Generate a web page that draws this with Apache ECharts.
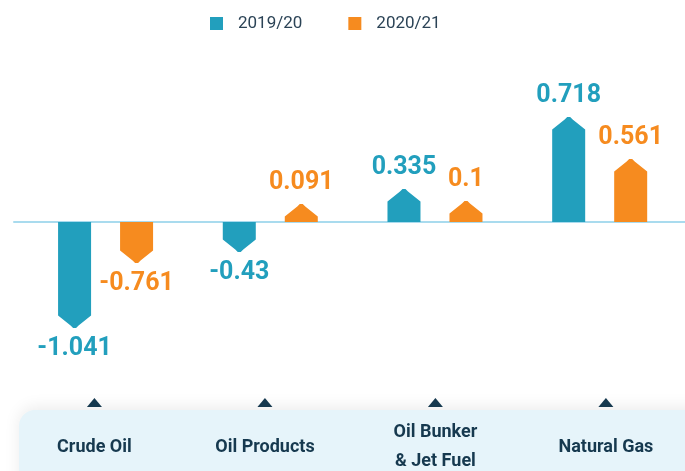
<!DOCTYPE html>
<html>
<head>
<meta charset="utf-8">
<title>Energy change by product</title>
<script src="https://cdn.jsdelivr.net/npm/echarts@6/dist/echarts.min.js"></script>
<style>
  body { margin: 0; background: #fff; }
  #chart { width: 685px; height: 471px; }
</style>
</head>
<body>
<div id="chart"></div>
<script>
const categories = ['Crude Oil', 'Oil Products', 'Oil Bunker\n& Jet Fuel', 'Natural Gas'];
const seriesNames = ['2019/20', '2020/21'];
// values printed on the bars
const values2019 = [-1.041, -0.43, 0.335, 0.718];
const values2021 = [-0.761, 0.091, 0.1, 0.561];
// bar lengths as drawn in the picture (the artwork is not to scale)
const drawn2019 = [-1.06, -0.30, 0.33, 1.05];
const drawn2021 = [-0.41, 0.18, 0.21, 0.63];

const BLUE = '#229fbd';
const ORANGE = '#f68b1f';
const NAVY = '#16394f';

const chart = echarts.init(document.getElementById('chart'));

// bar with a chamfered, slightly rounded tip + value label past the tip
function arrowBar(offset, color) {
    return function (params, api) {
        const i = api.value(0);
        const base = api.coord([i, 0]);
        const tip = api.coord([i, api.value(1)]);
        const bw = 33;
        const xc = base[0] + offset;
        const x0 = xc - bw / 2, x1 = xc + bw / 2;
        const b = base[1], t = tip[1];
        const dir = b > t ? 1 : -1;
        const ch = Math.min(12.5, Math.abs(b - t));
        const s = t + dir * ch;
        const pts = [
            [x0, b], [x0, s],
            [xc - 4, t + dir * 2.5], [xc - 1.5, t], [xc + 1.5, t], [xc + 4, t + dir * 2.5],
            [x1, s], [x1, b]
        ];
        return {
            type: 'group',
            children: [
                { type: 'polygon', shape: { points: pts }, style: { fill: color } },
                {
                    type: 'text', x: xc, y: t - dir * 21,
                    style: {
                        text: String(api.value(2)), fill: color,
                        fontFamily: 'Roboto', fontWeight: 'bold', fontSize: 25,
                        align: 'center', verticalAlign: 'middle'
                    }
                }
            ]
        };
    };
}

chart.setOption({
    animation: false,
    color: [BLUE, ORANGE],
    legend: {
        data: seriesNames,
        left: 205, top: 10,
        icon: 'rect',
        itemWidth: 13, itemHeight: 13, itemGap: 46,
        textStyle: { fontFamily: 'Roboto', fontWeight: 400, fontSize: 17, color: '#2b4356', padding: [0, 0, 0, 10] }
    },
    graphic: [{
        type: 'rect', z: 0,
        shape: { x: 19, y: 410, width: 720, height: 90, r: 16 },
        style: { fill: '#e6f4fa', shadowBlur: 16, shadowColor: 'rgba(0,0,0,0.08)', shadowOffsetY: -3 }
    }],
    grid: [
        { left: 14, right: 0, top: 72, height: 300 },
        { left: 0, right: 0, top: 395, height: 76 }
    ],
    xAxis: [
        {
            type: 'value', gridIndex: 0, min: -0.556, max: 3.518,
            axisLine: { show: true, onZero: true, lineStyle: { color: '#a9dbee', width: 2 } },
            axisTick: { show: false }, axisLabel: { show: false }, splitLine: { show: false }
        },
        { type: 'value', gridIndex: 1, min: -0.554, max: 3.464, show: false }
    ],
    yAxis: [
        { type: 'value', gridIndex: 0, min: -1.5, max: 1.5, show: false },
        { type: 'value', gridIndex: 1, min: 0, max: 1, show: false }
    ],
    series: [
        {
            name: seriesNames[0], type: 'custom', z: 3,
            itemStyle: { color: BLUE },
            renderItem: arrowBar(-31, BLUE),
            data: drawn2019.map((v, i) => [i, v, values2019[i]])
        },
        {
            name: seriesNames[1], type: 'custom', z: 3,
            itemStyle: { color: ORANGE },
            renderItem: arrowBar(31, ORANGE),
            data: drawn2021.map((v, i) => [i, v, values2021[i]])
        },
        {
            name: 'categories', type: 'custom', xAxisIndex: 1, yAxisIndex: 1, z: 3,
            renderItem: function (params, api) {
                const i = api.value(0);
                const x = api.coord([i, 0])[0];
                const top = params.coordSys.y;
                return {
                    type: 'group',
                    children: [
                        { type: 'polygon', shape: { points: [[x - 7.5, top + 12], [x, top + 3], [x + 7.5, top + 12]] }, style: { fill: NAVY } },
                        {
                            type: 'text', x: x, y: top + 52,
                            style: {
                                text: categories[i], fill: NAVY,
                                fontFamily: 'Roboto', fontWeight: 'bold', fontSize: 18, lineHeight: 29,
                                align: 'center', verticalAlign: 'middle'
                            }
                        }
                    ]
                };
            },
            data: categories.map((c, i) => [i, 0])
        }
    ]
});
</script>
</body>
</html>
